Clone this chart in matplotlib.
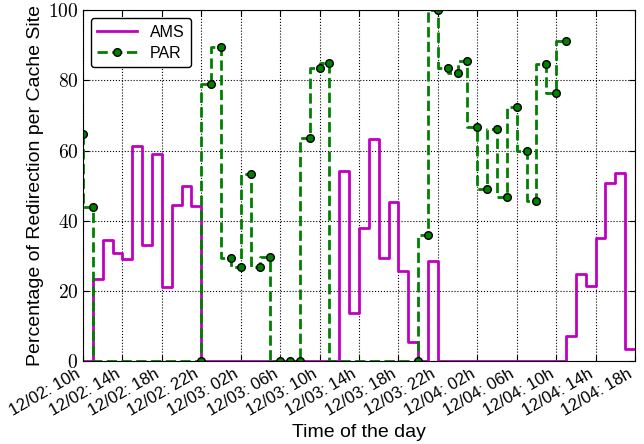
import matplotlib
matplotlib.use("Agg")
import matplotlib.pyplot as plt
from matplotlib.ticker import FuncFormatter

plt.rcParams['font.family'] = ['Liberation Sans', 'DejaVu Sans']
plt.rcParams['mathtext.fontset'] = 'cm'

# hours since 12/02 10h; step value at hour h covers (h-1, h]
ams_hours = list(range(0, 57))
ams_vals = [0, 0, 23.5, 34.5, 30.7, 29.2, 61.3, 33.2, 58.9, 21.0, 44.6, 50.0, 44.3,
            0, 0, 0, 0, 0, 0, 0, 0, 0, 0, 0, 0, 0, 0,
            54.1, 13.6, 37.8, 63.4, 29.4, 45.4, 25.7, 5.3, 0, 28.5,
            0, 0, 0, 0, 0, 0, 0, 0, 0, 0, 0, 0, 0,
            7.2, 24.8, 21.5, 35.2, 50.7, 53.7, 3.3]

par_hours = [0, 1, 12, 13, 14, 15, 16, 17, 18, 19, 20, 21, 22, 23, 24, 25,
             34, 35, 36, 37, 38, 39, 40, 41, 42, 43, 44, 45, 46, 47, 48, 49]
par_vals = [64.7, 44.0, 0, 78.9, 89.5, 29.3, 26.9, 53.3, 26.9, 29.7, 0, 0, 0, 63.7, 83.4, 85.0,
            0, 35.8, 100, 83.4, 82.0, 85.6, 66.8, 48.9, 66.1, 46.8, 72.3, 59.8, 45.7, 84.6, 76.4, 91.2]

tick_labels = ['12/02: 10h', '12/02: 14h', '12/02: 18h', '12/02: 22h',
               '12/03: 02h', '12/03: 06h', '12/03: 10h', '12/03: 14h', '12/03: 18h', '12/03: 22h',
               '12/04: 02h', '12/04: 06h', '12/04: 10h', '12/04: 14h', '12/04: 18h']

fig = plt.figure(figsize=(6.44, 4.44), dpi=100)
ax = fig.add_axes([0.129, 0.187, 0.857, 0.790])

ax.step(ams_hours, ams_vals, where='pre', color='#c000c0', lw=2, label='AMS')
ax.step(par_hours, par_vals, where='pre', color='green', lw=2, ls='--',
        marker='o', markersize=5.5, markerfacecolor='green', markeredgecolor='k',
        markeredgewidth=1, label='PAR')

ax.set_xlim(0, 56)
ax.set_ylim(0, 100)
ax.set_xticks(range(0, 57, 4))
ax.set_xticklabels(tick_labels, rotation=30, ha='right', fontsize=12)
ax.set_yticks(range(0, 101, 20))
ax.yaxis.set_major_formatter(FuncFormatter(lambda v, p: r'$%d$' % v))
ax.tick_params(axis='y', labelsize=14)
ax.tick_params(direction='in', top=True, right=True, length=4, width=0.8)

ax.grid(True, color='k', linestyle=':', linewidth=0.8)
ax.set_axisbelow(True)

ax.set_xlabel('Time of the day', fontsize=14)
ax.set_ylabel('Percentage of Redirection per Cache Site', fontsize=14, labelpad=3)

leg = ax.legend(loc='upper left', fontsize=11.5, handlelength=2.5, fancybox=True,
                framealpha=1, edgecolor='k', borderpad=0.4, labelspacing=0.4)
leg.get_frame().set_linewidth(1)

fig.savefig('out.png', dpi=100)
